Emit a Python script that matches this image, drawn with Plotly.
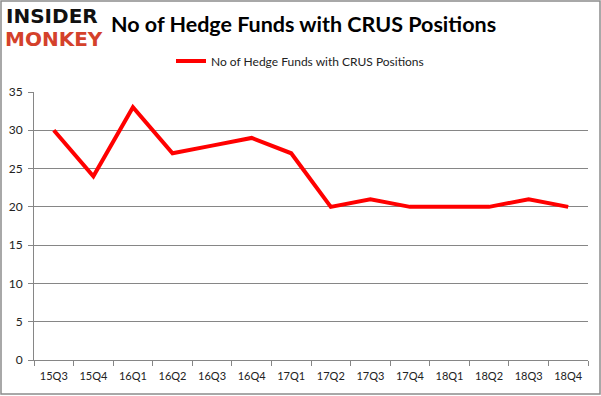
import plotly.graph_objects as go

quarters = ["15Q3", "15Q4", "16Q1", "16Q2", "16Q3", "16Q4", "17Q1",
            "17Q2", "17Q3", "17Q4", "18Q1", "18Q2", "18Q3", "18Q4"]
hedge_funds = [30, 24, 33, 27, 28, 29, 27, 20, 21, 20, 20, 20, 21, 20]
y_ticks = [0, 5, 10, 15, 20, 25, 30, 35]
series_name = "No of Hedge Funds with CRUS Positions"
title_text = "No of Hedge Funds with CRUS Positions"

W, H = 601, 396
L, R, T, B = 34, 13, 92, 36
pw, ph = W - L - R, H - T - B

def px(x):
    return (x - L) / pw

def py(y):
    return (H - B - y) / ph

fig = go.Figure()
fig.add_trace(go.Scatter(
    x=quarters, y=hedge_funds, mode="lines", name=series_name,
    line=dict(color="#ff0000", width=4),
))

fig.update_layout(
    template="none",
    width=W, height=H,
    margin=dict(l=L, r=R, t=T, b=B),
    paper_bgcolor="white", plot_bgcolor="white",
    font=dict(family="Lato, Open Sans, sans-serif", size=11, color="#222"),
    showlegend=True,
    legend=dict(orientation="h", x=px(300), xanchor="center", y=py(61), yanchor="middle",
                font=dict(size=12, color="#222"), itemwidth=30, bgcolor="rgba(0,0,0,0)"),
    xaxis=dict(type="category", range=[-0.5, len(quarters) - 0.5], automargin=False,
               tickson="boundaries", ticks="outside", ticklen=5, tickcolor="#868686",
               showline=True, linecolor="#868686", linewidth=1, showgrid=False,
               ticklabelstandoff=6, tickfont=dict(size=11, color="#222")),
    yaxis=dict(range=[0, 35], tickvals=y_ticks, ticks="outside", ticklen=5, automargin=False,
               tickcolor="#868686", showline=True, linecolor="#868686", linewidth=1,
               gridcolor="#868686", gridwidth=1, zeroline=False, ticklabelstandoff=3,
               tickfont=dict(size=12, color="#222")),
    shapes=[dict(type="rect", xref="paper", yref="paper",
                 x0=px(1), x1=px(600), y0=py(394), y1=py(1),
                 line=dict(color="#8c8c8c", width=1.5), fillcolor="rgba(0,0,0,0)", layer="below")],
    annotations=[
        dict(text="<b>" + title_text + "</b>", xref="paper", yref="paper",
             x=px(303), y=py(24), xanchor="center", yanchor="middle", showarrow=False,
             font=dict(family="Lato, sans-serif", size=21.5, color="black")),
        dict(text="<b>INSIDER</b>", xref="paper", yref="paper",
             x=px(4), y=py(16), xanchor="left", yanchor="middle", showarrow=False,
             font=dict(family="DejaVu Sans, sans-serif", size=20, color="#111")),
        dict(text="<b>MONKEY</b>", xref="paper", yref="paper",
             x=px(3), y=py(39), xanchor="left", yanchor="middle", showarrow=False,
             font=dict(family="DejaVu Sans, sans-serif", size=20, color="#d4412b")),
    ],
)

fig.write_html("out.html", config={"displayModeBar": False},
               post_script="document.body.style.margin='0';document.body.style.padding='0';")
